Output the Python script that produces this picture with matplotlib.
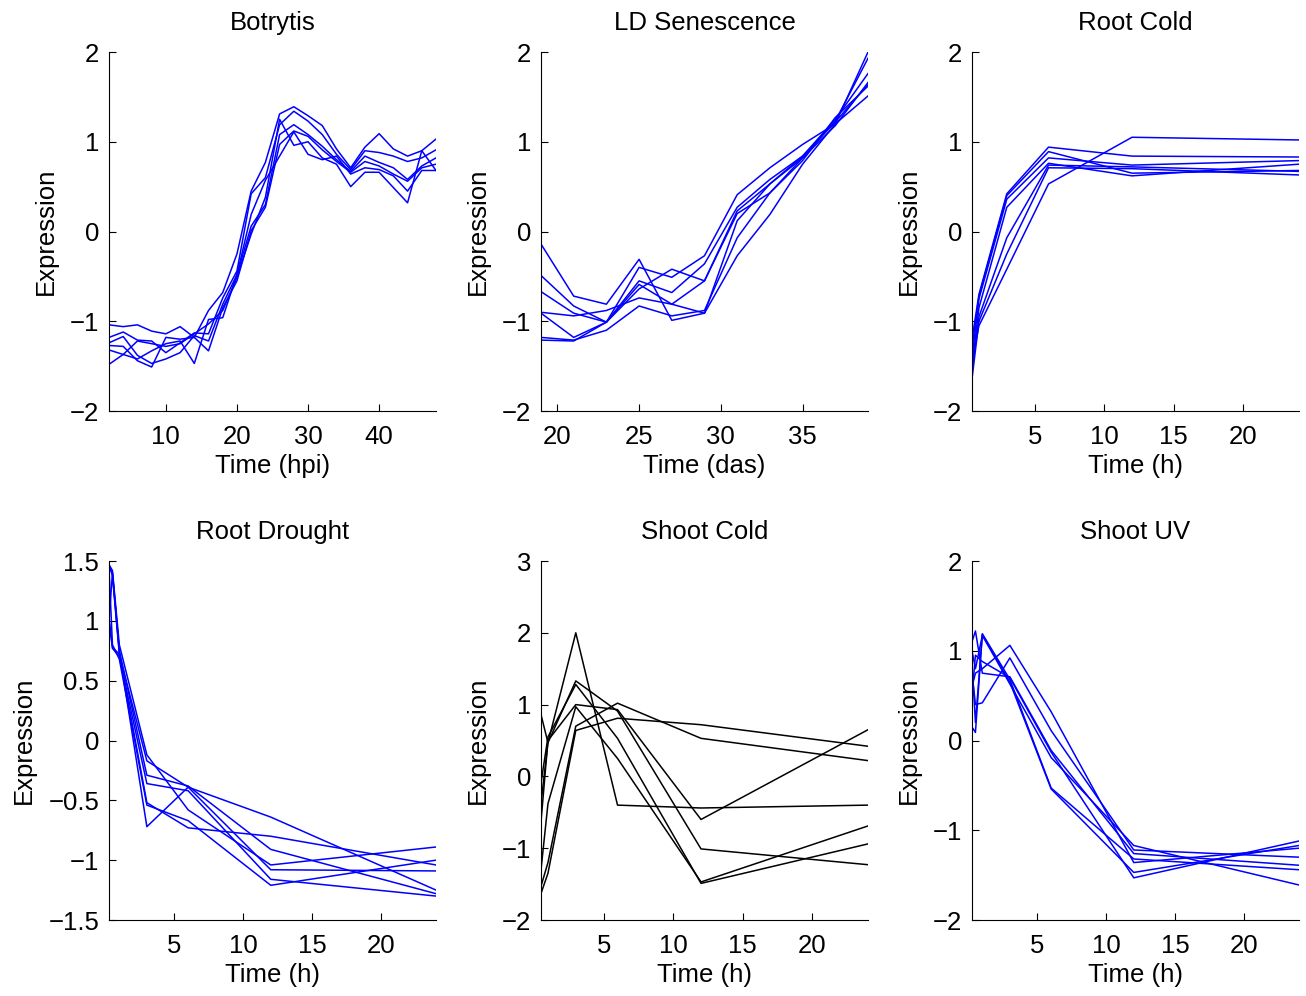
import numpy as np
from matplotlib import pyplot as plt

plt.rcParams['font.family'] = ['Liberation Sans', 'DejaVu Sans']

# ---- data ----
t_botrytis = np.arange(2, 49, 2)
botrytis = [
    [-1.04, -1.06, -1.04, -1.11, -1.14, -1.06, -1.18, -0.88, -0.68, -0.25, 0.45, 0.77,
     1.31, 1.39, 1.29, 1.18, 0.92, 0.71, 0.94, 1.09, 0.92, 0.84, 0.90, 1.03],
    [-1.18, -1.12, -1.21, -1.22, -1.35, -1.24, -1.13, -1.14, -0.74, -0.44, 0.42, 0.60,
     1.19, 1.34, 1.23, 1.08, 0.86, 0.69, 0.90, 0.88, 0.84, 0.78, 0.82, 0.91],
    [-1.24, -1.17, -1.38, -1.47, -1.42, -1.35, -1.16, -1.22, -0.81, -0.48, 0.06, 0.30,
     1.08, 1.19, 1.08, 0.95, 0.80, 0.67, 0.84, 0.77, 0.71, 0.58, 0.73, 0.82],
    [-1.27, -1.28, -1.44, -1.51, -1.18, -1.20, -1.18, -1.33, -0.85, -0.55, 0.01, 0.27,
     0.97, 1.12, 1.06, 0.91, 0.78, 0.66, 0.78, 0.73, 0.64, 0.56, 0.71, 0.75],
    [-1.32, -1.37, -1.42, -1.33, -1.25, -1.22, -1.47, -0.98, -0.96, -0.48, 0.19, 0.57,
     0.84, 1.11, 0.86, 0.80, 0.84, 0.64, 0.71, 0.69, 0.62, 0.45, 0.68, 0.68],
    [-1.48, -1.37, -1.22, -1.25, -1.28, -1.25, -1.14, -1.03, -0.88, -0.51, -0.03, 0.38,
     1.25, 0.96, 1.00, 0.82, 0.75, 0.50, 0.66, 0.66, 0.49, 0.32, 0.90, 0.68],
]

t_senescence = np.arange(19, 40, 2)
senescence = [
    [-0.14, -0.72, -0.81, -0.31, -0.99, -0.91, 0.12, 0.53, 0.84, 1.22, 1.64],
    [-0.49, -0.83, -1.01, -0.40, -0.51, -0.27, 0.41, 0.71, 0.97, 1.20, 1.51],
    [-0.67, -0.91, -1.01, -0.55, -0.68, -0.36, 0.27, 0.58, 0.84, 1.25, 1.76],
    [-0.90, -0.94, -0.88, -0.74, -0.81, -0.55, 0.23, 0.53, 0.82, 1.18, 1.66],
    [-0.91, -1.18, -1.01, -0.64, -0.42, -0.55, 0.20, 0.43, 0.82, 1.23, 1.93],
    [-1.18, -1.21, -1.10, -0.83, -0.94, -0.88, -0.07, 0.43, 0.79, 1.27, 1.62],
    [-1.21, -1.22, -1.01, -0.59, -0.81, -0.91, -0.27, 0.19, 0.75, 1.20, 2.00],
]

t_root_cold = [0.5, 1, 3, 6, 12, 24]
root_cold = [
    [-1.20, -0.70, 0.42, 0.94, 0.84, 0.83],
    [-1.30, -0.72, 0.40, 0.89, 0.65, 0.68],
    [-1.40, -0.75, 0.36, 0.82, 0.74, 0.79],
    [-1.50, -0.85, 0.27, 0.76, 0.62, 0.75],
    [-1.55, -0.95, -0.07, 0.74, 0.72, 0.67],
    [-1.64, -1.00, -0.25, 0.71, 0.70, 0.63],
    [-1.45, -1.05, -0.42, 0.53, 1.05, 1.02],
]

t_root_drought = [0.25, 0.5, 1, 3, 6, 12, 24]
root_drought = [
    [1.47, 1.42, 0.80, -0.12, -0.58, -1.04, -0.89],
    [1.00, 0.78, 0.72, -0.17, -0.39, -0.64, -1.25],
    [1.45, 1.40, 0.75, -0.29, -0.38, -0.91, -1.28],
    [1.02, 0.77, 0.70, -0.36, -0.42, -1.16, -1.30],
    [1.46, 1.38, 0.72, -0.52, -0.73, -0.80, -1.04],
    [1.44, 0.80, 0.68, -0.54, -0.67, -1.21, -1.00],
    [1.00, 1.40, 0.74, -0.72, -0.39, -1.08, -1.09],
]

t_shoot_cold = [0.5, 1, 3, 6, 12, 24]
shoot_cold = [
    [-0.37, 0.47, 2.00, -0.40, -0.44, -0.40],
    [0.86, 0.47, 1.33, 0.91, -1.01, -1.23],
    [-0.09, 0.55, 1.28, 0.53, -1.49, -0.94],
    [-0.63, 0.50, 1.00, 0.93, -0.60, 0.65],
    [-1.30, -0.38, 0.97, 0.25, -1.47, -0.69],
    [-1.53, -1.20, 0.70, 1.02, 0.53, 0.22],
    [-1.63, -1.35, 0.64, 0.81, 0.72, 0.42],
]

t_shoot_uv = [0.25, 0.5, 1, 3, 6, 12, 24]
shoot_uv = [
    [1.10, 1.22, 0.75, 0.71, -0.11, -1.26, -1.39],
    [0.15, 0.09, 1.19, 0.68, -0.53, -1.32, -1.44],
    [1.00, 0.80, 1.17, 0.63, -0.19, -1.17, -1.61],
    [0.76, 0.40, 0.42, 0.92, 0.11, -1.22, -1.30],
    [0.60, 0.75, 0.80, 1.06, 0.32, -1.36, -1.20],
    [0.85, 0.20, 1.18, 0.65, -0.54, -1.47, -1.17],
    [0.50, 0.95, 0.88, 0.70, -0.13, -1.53, -1.12],
]

titles = ['Botrytis', 'LD Senescence', 'Root Cold', 'Root Drought', 'Shoot Cold', 'Shoot UV']
xlabels = ['Time (hpi)', 'Time (das)', 'Time (h)', 'Time (h)', 'Time (h)', 'Time (h)']

FS = 18.5


def fmt(v):
    s = ('%g' % v)
    return s.replace('-', '\u2212')


def panel(ax, t, lines, title, xlabel, xlim, ylim, xticks, yticks, color):
    for y in lines:
        ax.plot(t, y, color=color, lw=1.1)
    ax.set_xlim(xlim)
    ax.set_ylim(ylim)
    ax.set_xticks(xticks)
    ax.set_yticks(yticks)
    ax.set_yticklabels([fmt(v) for v in yticks])
    ax.set_title(title, fontsize=FS, pad=16)
    ax.set_xlabel(xlabel, fontsize=FS, labelpad=4)
    ax.set_ylabel('Expression', fontsize=FS, labelpad=9)
    ax.spines['top'].set_visible(False)
    ax.spines['right'].set_visible(False)
    ax.tick_params(direction='in', length=5, width=0.8, labelsize=FS)
    ax.tick_params(axis='x', pad=10)
    ax.tick_params(axis='y', pad=7)


fig = plt.figure(figsize=(13.06, 9.96), dpi=100)
W, H = 1306.0, 996.0
lefts = [109, 541, 972]
tops = [52, 561]
aw, ah = 327, 359
axes = []
for r in range(2):
    for c in range(3):
        axes.append(fig.add_axes([lefts[c] / W, 1 - (tops[r] + ah) / H, aw / W, ah / H]))

blue = (0, 0, 1)
panel(axes[0], t_botrytis, botrytis, titles[0], xlabels[0], (2, 48), (-2, 2),
      [10, 20, 30, 40], [-2, -1, 0, 1, 2], blue)
panel(axes[1], t_senescence, senescence, titles[1], xlabels[1], (19, 39), (-2, 2),
      [20, 25, 30, 35], [-2, -1, 0, 1, 2], blue)
panel(axes[2], t_root_cold, root_cold, titles[2], xlabels[2], (0.5, 24), (-2, 2),
      [5, 10, 15, 20], [-2, -1, 0, 1, 2], blue)
panel(axes[3], t_root_drought, root_drought, titles[3], xlabels[3], (0.25, 24), (-1.5, 1.5),
      [5, 10, 15, 20], [-1.5, -1, -0.5, 0, 0.5, 1, 1.5], blue)
panel(axes[4], t_shoot_cold, shoot_cold, titles[4], xlabels[4], (0.5, 24), (-2, 3),
      [5, 10, 15, 20], [-2, -1, 0, 1, 2, 3], 'black')
panel(axes[5], t_shoot_uv, shoot_uv, titles[5], xlabels[5], (0.25, 24), (-2, 2),
      [5, 10, 15, 20], [-2, -1, 0, 1, 2], blue)

fig.savefig('out.png', dpi=100)
